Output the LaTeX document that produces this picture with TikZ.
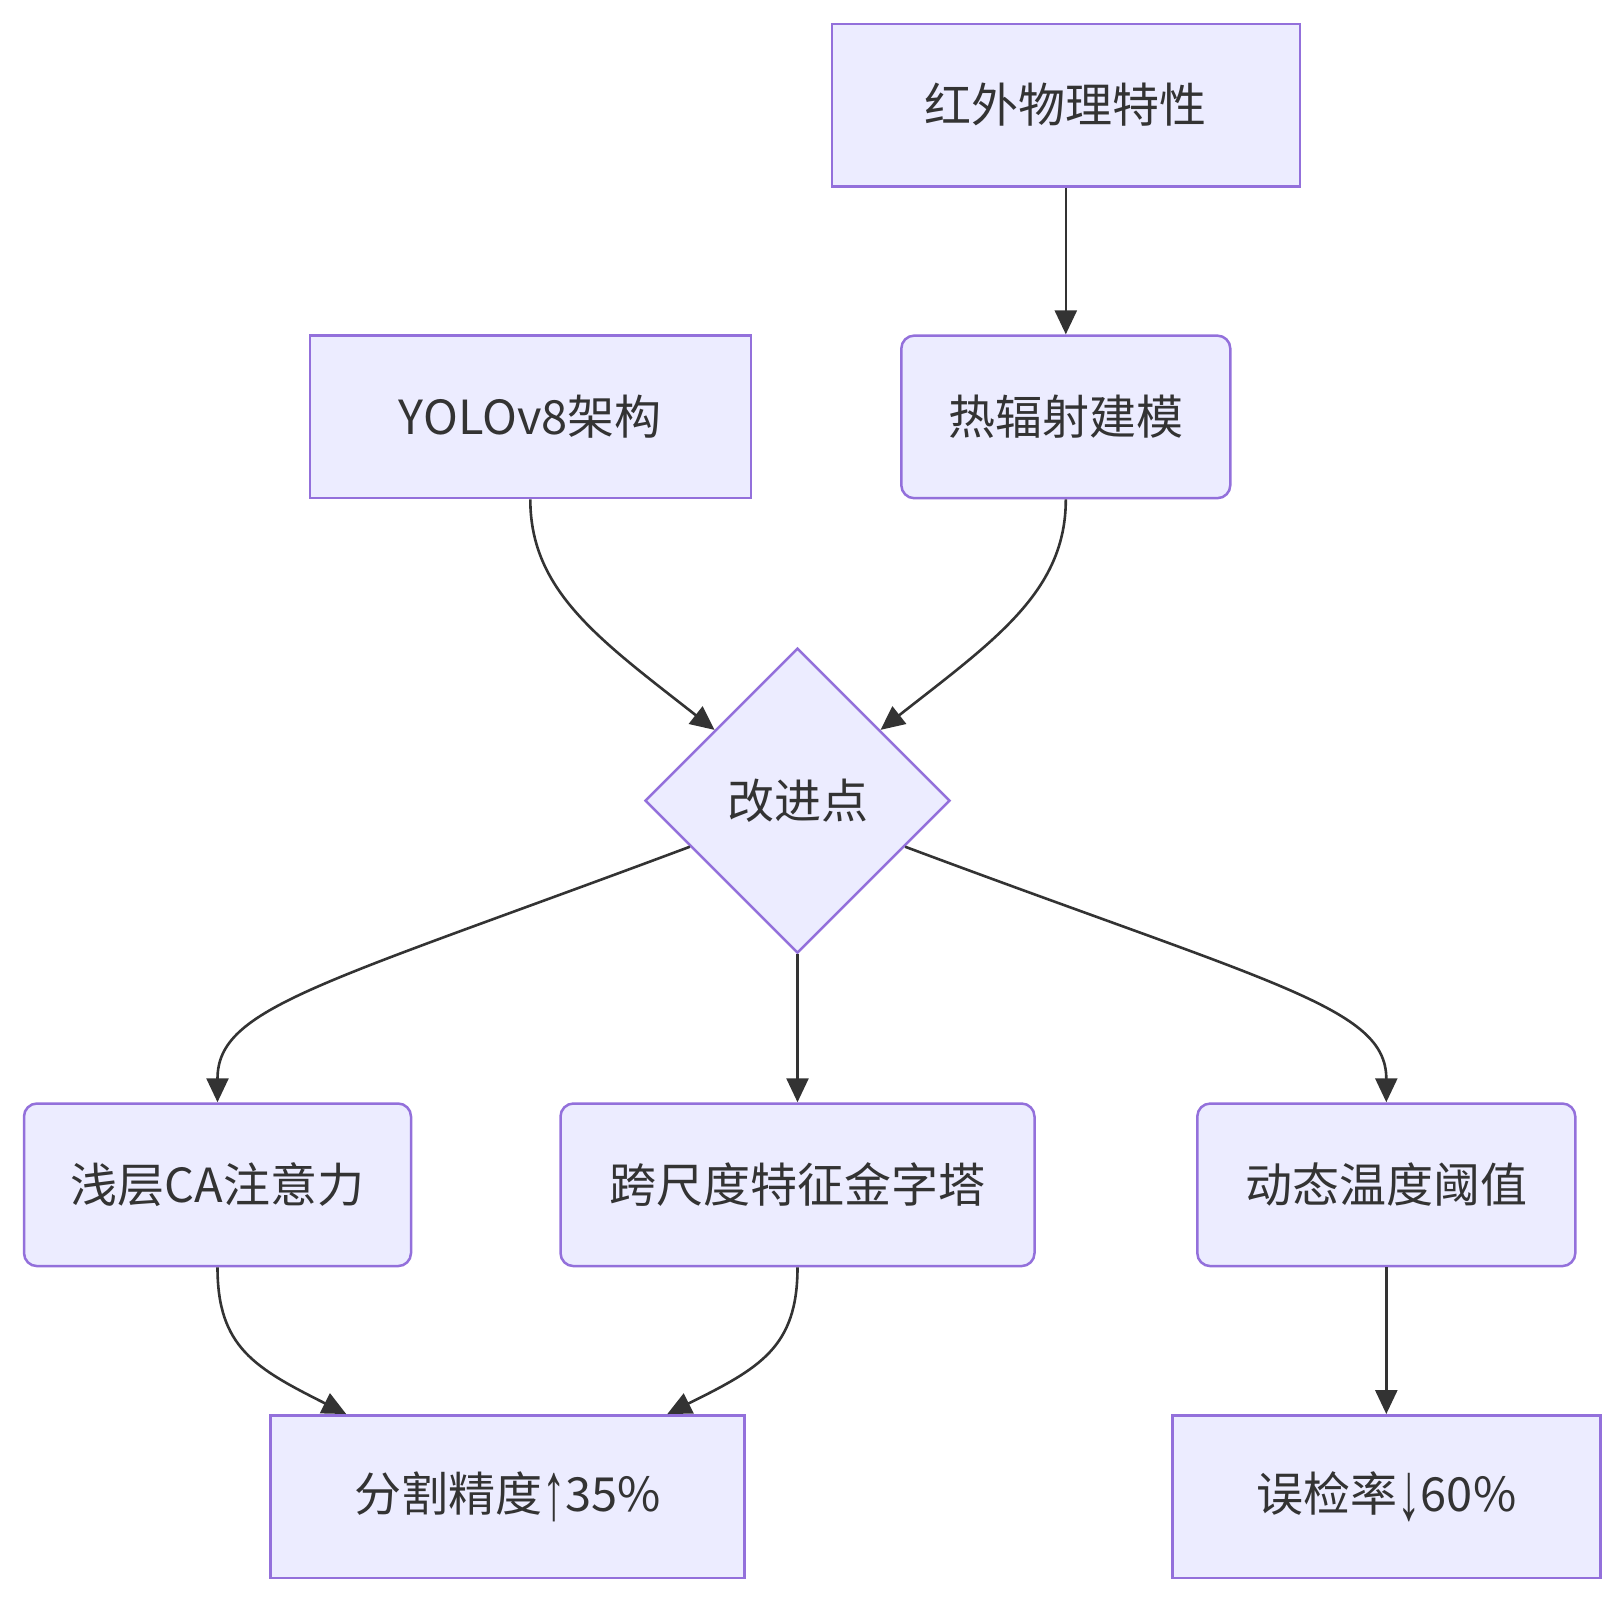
\documentclass[tikz,border=0pt]{standalone}
\usepackage{fontspec}
\setmainfont{Noto Sans CJK SC}
\newfontfamily\arrowfont{Liberation Sans}
\usetikzlibrary{shapes.geometric,arrows.meta,calc}
\definecolor{nodefill}{HTML}{ECECFF}
\definecolor{nodeline}{HTML}{9370DB}
\definecolor{ink}{HTML}{333333}
% tall, narrow arrow glyphs for the result labels
\newcommand{\tallarrow}[1]{\raisebox{-0.16em}{\scalebox{1}[1.75]{\arrowfont #1}}}
\begin{document}
\begin{tikzpicture}[x=1pt,y=-1pt,
  font=\fontsize{47}{54}\selectfont,
  base/.style={draw=nodeline,fill=nodefill,line width=2.5pt,text=ink,inner sep=0pt,minimum height=162.6pt},
  sqbox/.style={base,rectangle},
  rdbox/.style={base,rectangle,rounded corners=13pt},
  choice/.style={base,diamond,aspect=1,minimum width=305pt,minimum height=305pt},
  link/.style={draw=ink,line width=2.6pt,-{Triangle[length=24pt,width=22pt]}}]
\useasboundingbox (0,0) rectangle (1624,1602);

% nodes
\node[sqbox,minimum width=468pt] (phys) at (1065.8,105.1) {红外物理特性};
\node[sqbox,minimum width=441pt] (yolo) at (530.3,416.9) {YOLOv8架构};
\node[rdbox,minimum width=329pt] (heat) at (1065.8,416.9) {热辐射建模};
\node[choice] (imp) at (797.5,800.6) {改进点};
\node[rdbox,minimum width=387pt] (ca) at (217.5,1184.8) {浅层CA注意力};
\node[rdbox,minimum width=474pt] (pyr) at (797.5,1184.8) {跨尺度特征金字塔};
\node[rdbox,minimum width=378pt] (temp) at (1386.3,1184.8) {动态温度阈值};
\node[sqbox,minimum width=474pt] (seg) at (507.5,1496.6) {分割精度\tallarrow{↑}35\%};
\node[sqbox,minimum width=428pt] (err) at (1386.3,1496.6) {误检率\tallarrow{↓}60\%};

% points on the diamond edges
\coordinate (impNW) at ($(imp.west)!0.46!(imp.north)$);
\coordinate (impNE) at ($(imp.east)!0.46!(imp.north)$);
\coordinate (impSW) at ($(imp.west)!0.3!(imp.south)$);
\coordinate (impSE) at ($(imp.east)!0.3!(imp.south)$);

% connectors
\draw[link] (phys) -- (heat);
\draw[link] (yolo.south) .. controls ($(yolo.south)+(0,92)$) and (600,640) .. (impNW);
\draw[link] (heat.south) .. controls ($(heat.south)+(0,92)$) and (995,640) .. (impNE);
\draw[link] (impSW) .. controls (320,985) and ($(ca.north)+(0,-95)$) .. (ca.north);
\draw[link] (imp.south) -- (pyr.north);
\draw[link] (impSE) .. controls (1275,985) and ($(temp.north)+(0,-95)$) .. (temp.north);
\draw[link] (ca.south) .. controls ($(ca.south)+(0,80)$) and (255,1368) .. ($(seg.north west)+(77,0)$);
\draw[link] (pyr.south) .. controls ($(pyr.south)+(0,80)$) and (760,1368) .. ($(seg.north west)+(398,0)$);
\draw[link] (temp) -- (err);
\end{tikzpicture}
\end{document}
